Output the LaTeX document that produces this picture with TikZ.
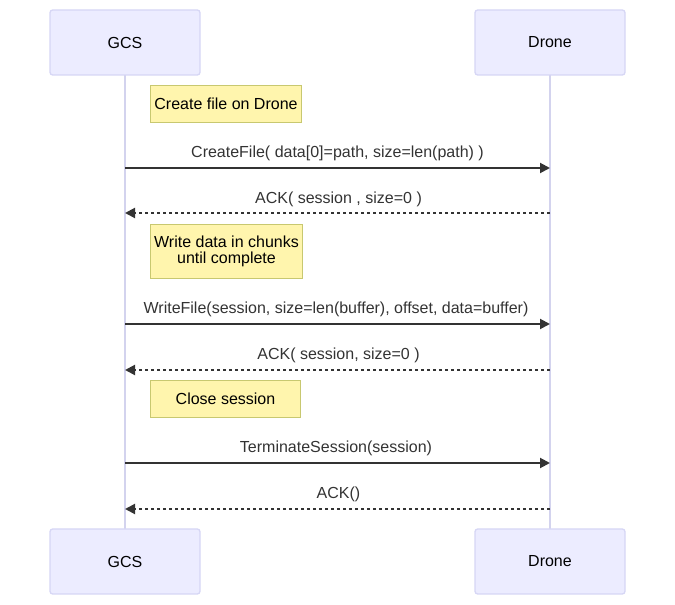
\documentclass[tikz,border=0pt]{standalone}
\usepackage{fontspec}
\setmainfont{Liberation Sans}
\usetikzlibrary{arrows.meta}
\definecolor{actfill}{HTML}{ECECFF}
\definecolor{actdraw}{HTML}{D6D6F5}
\definecolor{lifec}{HTML}{D3D3EE}
\definecolor{notefill}{HTML}{FFF5AD}
\definecolor{notedraw}{HTML}{C8C870}
\definecolor{msgc}{HTML}{333333}
\tikzset{
  actor/.style={draw=actdraw, fill=actfill, line width=1pt, rounded corners=2pt, minimum width=150*0.75pt, minimum height=65*0.75pt, inner sep=0pt, font=\fontsize{12}{14}\selectfont},
  note/.style={draw=notedraw, fill=notefill, line width=0.75pt, inner sep=0pt, align=center, font=\fontsize{12}{14}\selectfont, anchor=north west},
  life/.style={draw=lifec, line width=1.5pt},
  msg/.style={draw=msgc, line width=1.5pt, -{Triangle[length=7.5pt,width=7.5pt]}},
  reply/.style={msg, dash pattern=on 2.25pt off 2.25pt},
  lbl/.style={text=msgc, font=\fontsize{12}{14}\selectfont, inner sep=0pt, yshift=-1.5pt}
}
\begin{document}
\begin{tikzpicture}[x=0.75pt,y=-0.75pt]
\useasboundingbox (0,0) rectangle (675,605);
% lifelines
\coordinate (g0) at (125,75);
\coordinate (g1) at (125,529);
\coordinate (d0) at (550,75);
\coordinate (d1) at (550,529);
\draw[life] (g0) -- (g1);
\draw[life] (d0) -- (d1);
% actors
\node[actor] (gcsT) at (125,42.5) {\raisebox{-1.5pt}{GCS}};
\node[actor] (drT) at (550,42.5) {\raisebox{-1.5pt}{Drone}};
\node[actor] (gcsB) at (125,561.5) {\raisebox{-1.5pt}{GCS}};
\node[actor] (drB) at (550,561.5) {\raisebox{-1.5pt}{Drone}};
% notes
\node[note, minimum width=151*0.75pt, minimum height=37*0.75pt] (n1) at (150,85) {\raisebox{-1pt}{Create file on Drone}};
\node[note, minimum width=152*0.75pt, minimum height=54*0.75pt] (n2) at (150,224) {\raisebox{-2pt}{\shortstack{Write data in chunks\\until complete}}};
\node[note, minimum width=150*0.75pt, minimum height=37*0.75pt] (n3) at (150,380) {\raisebox{-1pt}{Close session}};
% messages
\coordinate (a1) at (125,168); \coordinate (b1) at (550,168);
\coordinate (a2) at (550,213); \coordinate (b2) at (125,213);
\coordinate (a3) at (125,324); \coordinate (b3) at (550,324);
\coordinate (a4) at (550,370); \coordinate (b4) at (125,370);
\coordinate (a5) at (125,463); \coordinate (b5) at (550,463);
\coordinate (a6) at (550,509); \coordinate (b6) at (125,509);
\draw[msg] (a1) -- (b1);
\draw[reply] (a2) -- (b2);
\draw[msg] (a3) -- (b3);
\draw[reply] (a4) -- (b4);
\draw[msg] (a5) -- (b5);
\draw[reply] (a6) -- (b6);
\node[lbl] (l1) at (337.5,151) {CreateFile( data[0]=path, size=len(path) )};
\node[lbl] (l2) at (338.5,197) {ACK( session , size=0 )};
\node[lbl] (l3) at (336,307) {WriteFile(session, size=len(buffer), offset, data=buffer)};
\node[lbl] (l4) at (338.5,353) {ACK( session, size=0 )};
\node[lbl] (l5) at (336,446) {TerminateSession(session)};
\node[lbl] (l6) at (338.5,492) {ACK()};
\end{tikzpicture}
\end{document}
